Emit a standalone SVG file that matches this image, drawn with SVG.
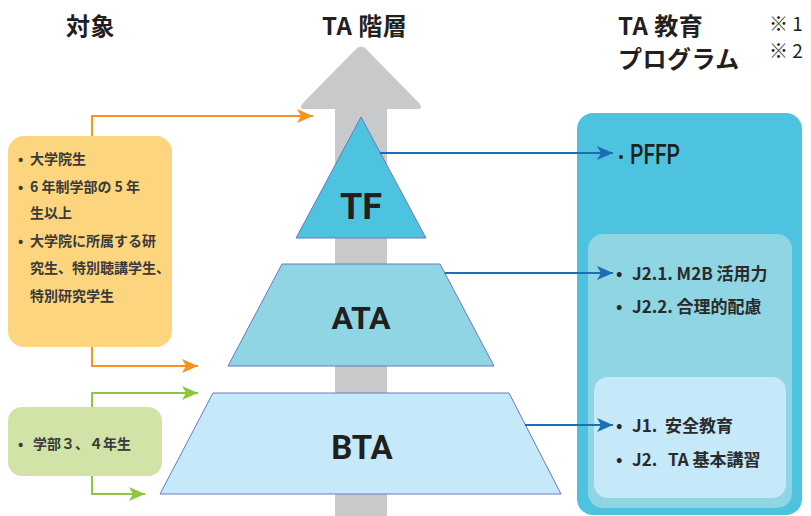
<svg xmlns="http://www.w3.org/2000/svg" width="811" height="516" viewBox="0 0 811 516">
<style>
.hd{font-family:"Noto Sans CJK JP","Liberation Sans",sans-serif;font-size:24px;font-weight:700;fill:#231f20;letter-spacing:0.5px}
.nt{font-family:"Noto Sans CJK JP","Liberation Sans",sans-serif;font-size:19px;font-weight:400;fill:#231f20}
.lt{font-family:"Noto Sans CJK JP","Liberation Sans",sans-serif;font-size:14px;font-weight:700;fill:#3a3a3a}
.rt{font-family:"Noto Sans CJK JP","Liberation Sans",sans-serif;font-size:17px;font-weight:700;fill:#2b2b2b}
.lv{font-family:Roboto,"Liberation Sans",sans-serif;font-weight:700;fill:#231f20;text-anchor:middle}
.lvl{stroke:#6a78c2;stroke-width:1}
.or{stroke:#f7931e;stroke-width:2;fill:none}
.gr{stroke:#8dc63f;stroke-width:2;fill:none}
.bl{stroke:#1b6db5;stroke-width:2;fill:none}
</style>
<defs>
<marker id="ao" markerWidth="16" markerHeight="14" refX="16" refY="7" orient="auto" markerUnits="userSpaceOnUse"><path d="M0,0 L16,7 L0,14 L4,7 Z" fill="#f7931e"/></marker>
<marker id="ag" markerWidth="16" markerHeight="14" refX="16" refY="7" orient="auto" markerUnits="userSpaceOnUse"><path d="M0,0 L16,7 L0,14 L4,7 Z" fill="#8dc63f"/></marker>
<marker id="ab" markerWidth="16" markerHeight="14" refX="16" refY="7" orient="auto" markerUnits="userSpaceOnUse"><path d="M0,0 L16,7 L0,14 L4,7 Z" fill="#1b6db5"/></marker>
</defs>
<g id="headers">
<text class="hd" x="66" y="35">対象</text>
<text class="hd" x="322" y="35">TA 階層</text>
<text class="hd" x="618" y="35">TA 教育</text>
<text class="hd" x="618" y="68">プログラム</text>
<text class="nt" x="769" y="31" xml:space="preserve">※ 1</text>
<text class="nt" x="769" y="58" xml:space="preserve">※ 2</text>
</g>
<g id="hierarchy-arrow">
<path d="M335,516 V109 H305 Q298,109 303,103 L356,49 Q361,44 366,49 L419,103 Q424,109 417,109 H387 V516 Z" fill="#c8c9cb"/>
</g>
<g id="program-panel">
<rect x="577" y="113" width="225" height="402" rx="16" fill="#4dc3df"/>
<rect x="588" y="234" width="204" height="274" rx="15" fill="#8fd5e3"/>
<rect x="594" y="377" width="192" height="121" rx="14" fill="#c5e9f8"/>
<circle cx="621" cy="157" r="2" fill="#231f20"/>
<text x="630" y="164" font-family="Roboto,'Liberation Sans',sans-serif" font-size="27" font-weight="500" fill="#231f20" textLength="50" lengthAdjust="spacingAndGlyphs">PFFP</text>
<text class="rt" x="616" y="280">• <tspan x="632">J2.1. M2B 活用力</tspan></text>
<text class="rt" x="616" y="313">• <tspan x="632">J2.2. 合理的配慮</tspan></text>
<text class="rt" x="616" y="432">• <tspan x="632">J1.</tspan><tspan x="665">安全教育</tspan></text>
<text class="rt" x="616" y="466">• <tspan x="632">J2.</tspan><tspan x="668">TA 基本講習</tspan></text>
</g>
<g id="target-grad">
<rect x="8" y="136" width="164" height="211" rx="16" fill="#fdd57e"/>
<text class="lt" x="18" y="164">• <tspan x="30">大学院生</tspan></text>
<text class="lt" x="18" y="192">• <tspan x="30">6 年制学部の 5 年</tspan></text>
<text class="lt" x="30" y="218">生以上</text>
<text class="lt" x="18" y="246">• <tspan x="30">大学院に所属する研</tspan></text>
<text class="lt" x="30" y="273">究生、特別聴講学生、</text>
<text class="lt" x="30" y="301">特別研究学生</text>
</g>
<g id="target-undergrad">
<rect x="8" y="407" width="154" height="69" rx="14" fill="#d1e3a6"/>
<text class="lt" x="18" y="449">• <tspan x="33">学部３、４年生</tspan></text>
</g>
<g id="node-bta">
<polygon class="lvl" points="213,393 509,393 561,494 160,494" fill="#c5e9f8"/>
<text class="lv" x="362" y="459" font-size="33">BTA</text>
</g>
<g id="node-ata">
<polygon class="lvl" points="282,264 440,264 494,366 228,366" fill="#8fd5e3"/>
<text class="lv" x="361" y="329" font-size="32">ATA</text>
</g>
<g id="node-tf">
<polygon class="lvl" points="361,117 426,238 296,238" fill="#4dc3df"/>
<text class="lv" x="361" y="219" font-size="36">TF</text>
</g>
<g id="connectors">
<path class="or" d="M92,136 V116 H313" marker-end="url(#ao)"/>
<path class="or" d="M92,347 V366 H198" marker-end="url(#ao)"/>
<path class="gr" d="M92,407 V393 H198" marker-end="url(#ag)"/>
<path class="gr" d="M92,476 V494 H145" marker-end="url(#ag)"/>
<path class="bl" d="M380,153 H613" marker-end="url(#ab)"/>
<path class="bl" d="M445,273 H613" marker-end="url(#ab)"/>
<path class="bl" d="M525,425 H613" marker-end="url(#ab)"/>
</g>
</svg>
